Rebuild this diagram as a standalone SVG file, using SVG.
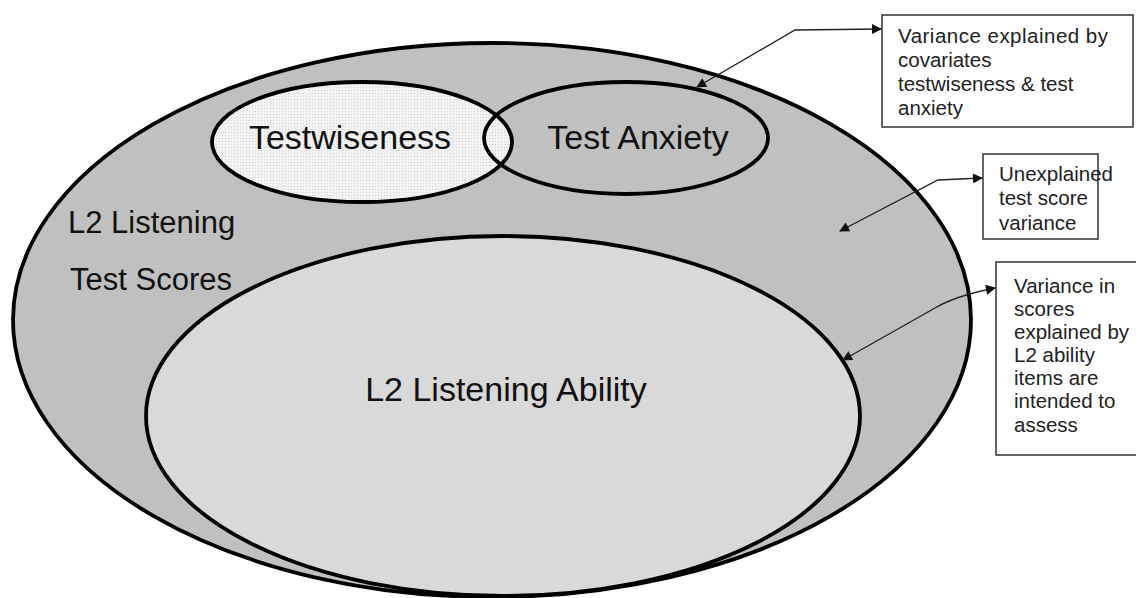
<svg xmlns="http://www.w3.org/2000/svg" width="1136" height="598" viewBox="0 0 1136 598">
<defs>
<style>
.ell{stroke:#000;stroke-width:3.8}
.lbl{font-family:"Liberation Sans",Arial,sans-serif;font-size:34px;fill:#111}
.side{font-family:"Liberation Sans",Arial,sans-serif;font-size:31px;fill:#111}
.box{fill:#fff;stroke:#333;stroke-width:1.5}
.bt{font-family:"Liberation Sans",Arial,sans-serif;font-size:20.5px;fill:#222}
.conn{fill:none;stroke:#222;stroke-width:1.4}
</style>
<pattern id="dots" width="3" height="3" patternUnits="userSpaceOnUse">
<rect width="3" height="3" fill="#f3f3f3"/>
<rect width="1" height="1" fill="#d4d4d4"/>
</pattern>
<marker id="ah" viewBox="0 0 10 10" refX="9" refY="5" markerWidth="11" markerHeight="10" markerUnits="userSpaceOnUse" orient="auto-start-reverse">
<path d="M0,0 L10,5 L0,10 z" fill="#111"/>
</marker>
</defs>
<rect width="1136" height="598" fill="#fff"/>
<g id="outer">
<ellipse class="ell" cx="492" cy="320" rx="479" ry="277" fill="#c0c0c0"/>
<text class="side" x="68" y="233">L2 Listening</text>
<text class="side" x="70" y="290">Test Scores</text>
</g>
<g id="ability">
<ellipse class="ell" cx="503" cy="416" rx="357" ry="180" fill="#d9d9d9"/>
<text class="lbl" x="506" y="401" text-anchor="middle">L2 Listening Ability</text>
</g>
<g id="testwiseness">
<ellipse class="ell" cx="362" cy="142" rx="150" ry="60" fill="url(#dots)"/>
<text class="lbl" x="350" y="149" text-anchor="middle">Testwiseness</text>
</g>
<g id="anxiety">
<ellipse class="ell" cx="626" cy="138" rx="142" ry="56" fill="none"/>
<text class="lbl" x="638" y="149" text-anchor="middle">Test Anxiety</text>
</g>
<g id="note1">
<rect class="box" x="882" y="15" width="251" height="112"/>
<text class="bt" x="898" y="43" textLength="210">Variance explained by</text>
<text class="bt" x="898" y="67">covariates</text>
<text class="bt" x="898" y="91">testwiseness &amp; test</text>
<text class="bt" x="898" y="115">anxiety</text>
</g>
<g id="note2">
<rect class="box" x="983" y="154" width="115" height="85"/>
<text class="bt" x="999" y="181">Unexplained</text>
<text class="bt" x="999" y="205">test score</text>
<text class="bt" x="999" y="230">variance</text>
</g>
<g id="note3">
<rect class="box" x="996" y="262" width="145" height="193"/>
<text class="bt" x="1014" y="293">Variance in</text>
<text class="bt" x="1014" y="316">scores</text>
<text class="bt" x="1014" y="339">explained by</text>
<text class="bt" x="1014" y="362">L2 ability</text>
<text class="bt" x="1014" y="385">items are</text>
<text class="bt" x="1014" y="408">intended to</text>
<text class="bt" x="1014" y="432">assess</text>
</g>
<g id="connectors">
<path class="conn" d="M697,87 L795,30 L881,29" marker-start="url(#ah)" marker-end="url(#ah)"/>
<path class="conn" d="M840,231 L938,180 L982,178" marker-start="url(#ah)" marker-end="url(#ah)"/>
<path class="conn" d="M843,360 L935,308 Q955,296 995,288" marker-start="url(#ah)" marker-end="url(#ah)"/>
</g>
</svg>
